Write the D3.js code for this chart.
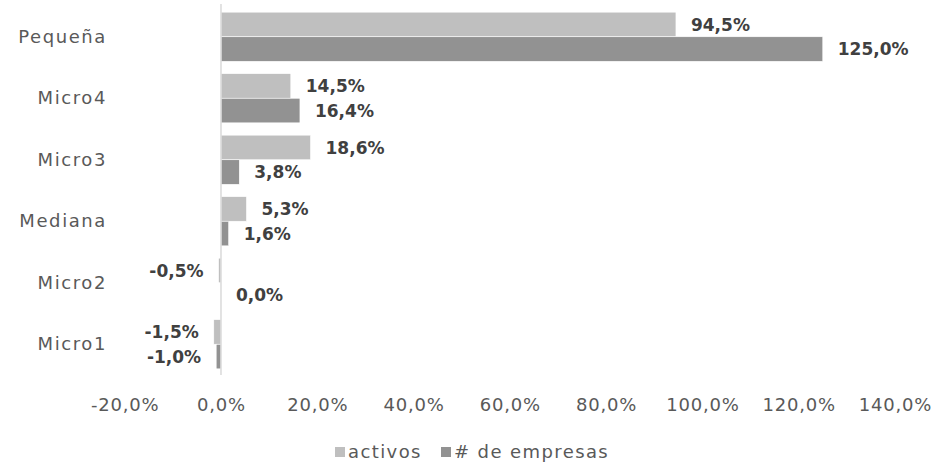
<!DOCTYPE html>
<html>
<head>
<meta charset="utf-8">
<script src="https://cdn.jsdelivr.net/npm/d3@7"></script>
<style>
  body { margin: 0; background: #fff; }
  svg { font-family: "DejaVu Sans", sans-serif; }
</style>
</head>
<body>
<svg id="chart" width="933" height="466"></svg>
<script>
var categories = ["Pequeña", "Micro4", "Micro3", "Mediana", "Micro2", "Micro1"];
var seriesNames = ["activos", "# de empresas"];
var activos = [94.5, 14.5, 18.6, 5.3, -0.5, -1.5];
var empresas = [125.0, 16.4, 3.8, 1.6, 0.0, -1.0];
var xTicks = [-20, 0, 20, 40, 60, 80, 100, 120, 140];
var colors = ["#bfbfbf", "#929292"];

var svg = d3.select("#chart");
var width = 933, height = 466;

// scales
var xScale = d3.scaleLinear().domain([-20, 140]).range([124.7, 895]);
var yScale = d3.scaleBand().domain(categories).range([6, 375]).paddingInner(0.2).paddingOuter(0.1);
var ySub = d3.scaleBand().domain(seriesNames).range([0, yScale.bandwidth()]);

var fmt = function (v) { return v.toFixed(1).replace(".", ",") + "%"; };

var rows = [];
categories.forEach(function (c, i) {
    rows.push({ cat: c, s: seriesNames[0], v: activos[i], col: colors[0] });
    rows.push({ cat: c, s: seriesNames[1], v: empresas[i], col: colors[1] });
});

// bars
svg.append("g")
    .selectAll("rect")
    .data(rows)
    .enter()
    .append("rect")
    .attr("x", d => Math.min(xScale(0), xScale(d.v)))
    .attr("y", d => yScale(d.cat) + ySub(d.s))
    .attr("width", d => Math.abs(xScale(d.v) - xScale(0)))
    .attr("height", ySub.bandwidth())
    .attr("fill", d => d.col)
    .attr("stroke", "#ffffff")
    .attr("stroke-width", 0.6);

// zero line
svg.append("line")
    .attr("x1", xScale(0)).attr("x2", xScale(0))
    .attr("y1", 4).attr("y2", 375)
    .attr("stroke", "#d9d9d9")
    .attr("stroke-width", 1.5);

// value labels
svg.append("g")
    .selectAll("text")
    .data(rows)
    .enter()
    .append("text")
    .attr("x", d => d.v < 0 ? xScale(d.v) - 15 : xScale(d.v) + 15)
    .attr("y", d => yScale(d.cat) + ySub(d.s) + ySub.bandwidth() / 2)
    .attr("dy", "0.36em")
    .attr("text-anchor", d => d.v < 0 ? "end" : "start")
    .style("font-size", "17px")
    .style("font-weight", "bold")
    .style("fill", "#404040")
    .text(d => fmt(d.v));

// y axis category labels
var yAxis = d3.axisLeft(yScale).tickSize(0).tickPadding(0);
var gy = svg.append("g")
    .attr("transform", "translate(107,0)")
    .call(yAxis);
gy.select(".domain").remove();
gy.selectAll("text")
    .style("font-family", "DejaVu Sans, sans-serif")
    .style("font-size", "18px")
    .style("letter-spacing", "1.6px")
    .style("fill", "#595959");

// x axis
var xAxis = d3.axisBottom(xScale).tickValues(xTicks).tickSize(0).tickPadding(0).tickFormat(fmt);
var gx = svg.append("g")
    .attr("transform", "translate(0,398)")
    .call(xAxis);
gx.select(".domain").remove();
gx.selectAll("text")
    .style("font-family", "DejaVu Sans, sans-serif")
    .style("font-size", "18px")
    .style("letter-spacing", "0.8px")
    .style("fill", "#595959");

// legend
var legend = svg.append("g").attr("transform", "translate(0,452)");
var lx = [335, 441];
seriesNames.forEach(function (s, i) {
    legend.append("rect")
        .attr("x", lx[i])
        .attr("y", -5)
        .attr("width", 10)
        .attr("height", 10)
        .attr("fill", colors[i]);
    legend.append("text")
        .attr("x", lx[i] + 13)
        .attr("y", 0)
        .attr("dy", "0.36em")
        .style("font-size", "18px")
        .style("letter-spacing", "1.4px")
        .style("fill", "#595959")
        .text(s);
});
</script>
</body>
</html>
